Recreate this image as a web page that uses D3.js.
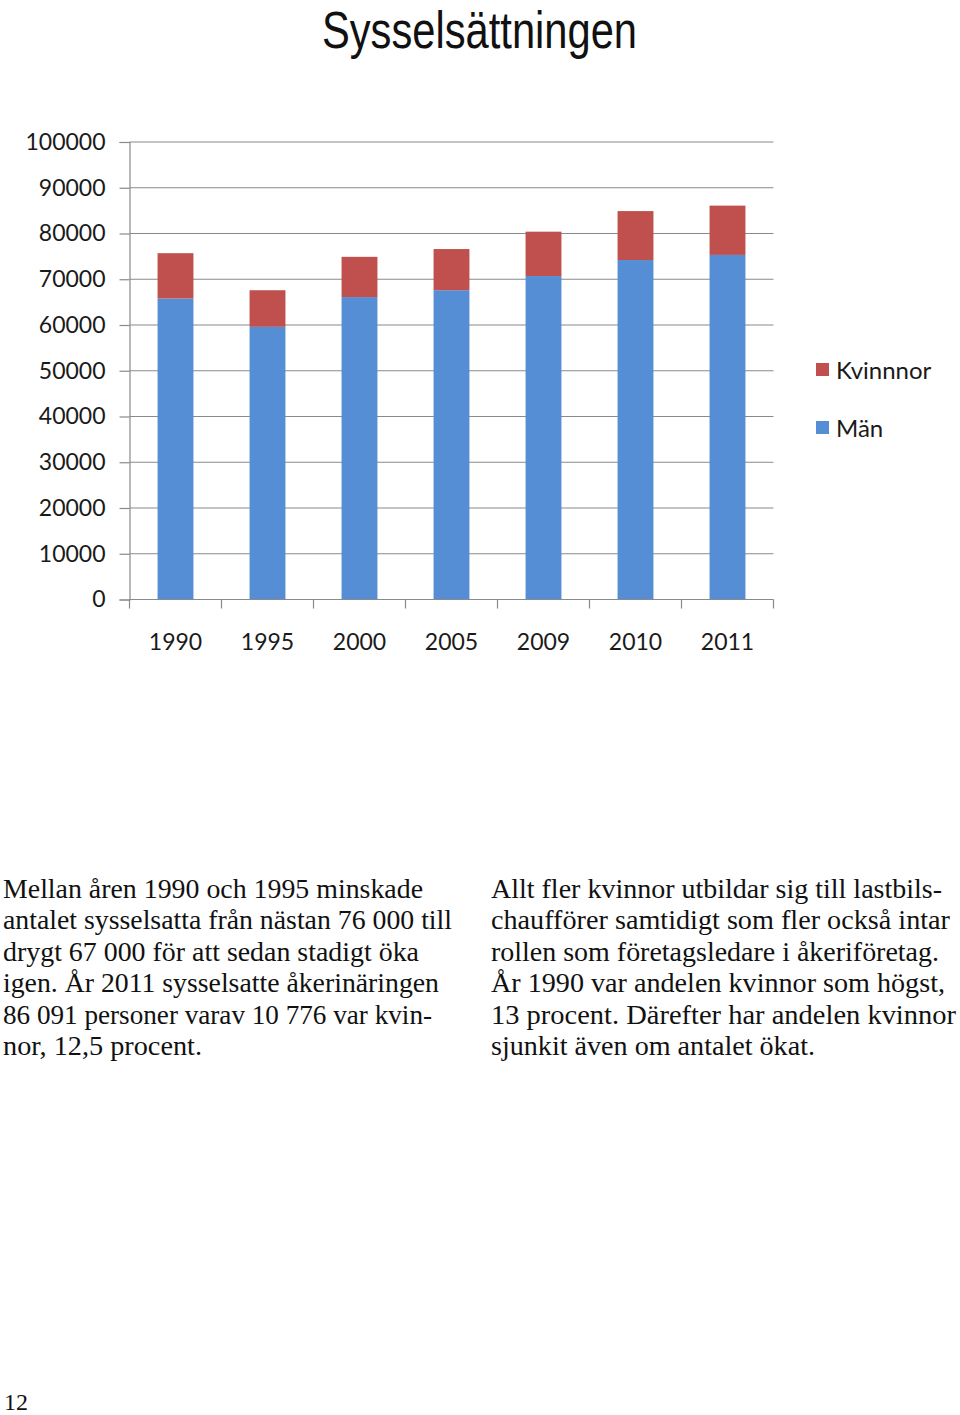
<!DOCTYPE html>
<html>
<head>
<meta charset="utf-8">
<script src="https://cdn.jsdelivr.net/npm/d3@7"></script>
<style>
  body { margin: 0; background: #fff; }
</style>
</head>
<body>
<div id="canvas"></div>
<script>
"use strict"

/* Data */
let years = ["1990", "1995", "2000", "2005", "2009", "2010", "2011"];
let man = [65800, 59600, 66100, 67600, 70700, 74200, 75315];
let kvinnor = [9900, 8000, 8800, 9000, 9700, 10700, 10776];
let yTicks = [0, 10000, 20000, 30000, 40000, 50000, 60000, 70000, 80000, 90000, 100000];
let seriesNames = ["Män", "Kvinnnor"];

/* Page text */
let title = "Sysselsättningen";
let leftLines = [
    "Mellan åren 1990 och 1995 minskade",
    "antalet sysselsatta från nästan 76 000 till",
    "drygt 67 000 för att sedan stadigt öka",
    "igen. År 2011 sysselsatte åkerinäringen",
    "86 091 personer varav 10 776 var kvin-",
    "nor, 12,5 procent."
];
let leftWidths = [420, 449, 416, 436, 429, 199];
let rightLines = [
    "Allt fler kvinnor utbildar sig till lastbils-",
    "chaufförer samtidigt som fler också intar",
    "rollen som företagsledare i åkeriföretag.",
    "År 1990 var andelen kvinnor som högst,",
    "13 procent. Därefter har andelen kvinnor",
    "sjunkit även om antalet ökat."
];
let rightWidths = [451, 459, 448, 454, 465, 324];

/* Drawing config */
let svgWidth = 960;
let svgHeight = 1415;
let plotLeft = 129.5;
let plotRight = 773.5;
let plotTop = 142;
let plotBottom = 599.5;
let blue = "#558ed5";
let red = "#c0504d";
let gridColor = "#8a8a8a";
let chartFont = "Lato, 'Open Sans', sans-serif";
let serifFont = "'Liberation Serif', 'DejaVu Serif', serif";

let svg = d3.select("#canvas")
    .append("svg")
    .attr("width", svgWidth)
    .attr("height", svgHeight);

svg.append("rect")
    .attr("width", svgWidth)
    .attr("height", svgHeight)
    .attr("fill", "#fff");

/* title */
svg.append("text")
    .attr("x", 322)
    .attr("y", 48)
    .attr("font-family", "'Liberation Sans', Arial, sans-serif")
    .attr("font-size", 52)
    .attr("fill", "#111")
    .attr("textLength", 315)
    .attr("lengthAdjust", "spacingAndGlyphs")
    .text(title);

/* scales */
let x = d3.scaleBand()
    .domain(years)
    .range([plotLeft, plotRight])
    .paddingInner(0.61)
    .paddingOuter(0.305);

let y = d3.scaleLinear()
    .domain([0, 100000])
    .range([plotBottom, plotTop]);

/* gridlines */
svg.append("g")
    .selectAll("line")
    .data(yTicks.slice(1))
    .join("line")
    .attr("x1", plotLeft)
    .attr("x2", plotRight)
    .attr("y1", d => y(d))
    .attr("y2", d => y(d))
    .attr("stroke", gridColor)
    .attr("stroke-width", 1.2);

/* stacked bars */
let table = years.map((yr, i) => ({ year: yr, man: man[i], kvinnor: kvinnor[i] }));
let stacked = d3.stack().keys(["man", "kvinnor"])(table);
let colors = { man: blue, kvinnor: red };

svg.append("g")
    .selectAll("g")
    .data(stacked)
    .join("g")
    .attr("fill", s => colors[s.key])
    .selectAll("rect")
    .data(s => s)
    .join("rect")
    .attr("x", d => x(d.data.year))
    .attr("width", x.bandwidth())
    .attr("y", d => y(d[1]))
    .attr("height", d => y(d[0]) - y(d[1]));

/* y axis */
let yAxis = svg.append("g")
    .attr("transform", `translate(${plotLeft},0)`)
    .call(d3.axisLeft(y)
        .tickValues(yTicks)
        .tickSize(10)
        .tickPadding(14)
        .tickFormat(d3.format("d")));

yAxis.select(".domain").attr("stroke", gridColor).attr("stroke-width", 1.2);
yAxis.selectAll(".tick line").attr("stroke", gridColor).attr("stroke-width", 1.2);
yAxis.selectAll(".tick text")
    .attr("font-family", chartFont)
    .attr("font-size", 23)
    .attr("fill", "#1a1a1a");

/* x axis: baseline, boundary ticks, labels */
svg.append("line")
    .attr("x1", plotLeft)
    .attr("x2", plotRight)
    .attr("y1", plotBottom)
    .attr("y2", plotBottom)
    .attr("stroke", gridColor)
    .attr("stroke-width", 1.2);

let boundaries = d3.range(years.length + 1).map(i => plotLeft + i * x.step());
svg.append("g")
    .selectAll("line")
    .data(boundaries)
    .join("line")
    .attr("x1", d => d)
    .attr("x2", d => d)
    .attr("y1", plotBottom)
    .attr("y2", plotBottom + 9)
    .attr("stroke", gridColor)
    .attr("stroke-width", 1.2);

svg.append("g")
    .selectAll("text")
    .data(years)
    .join("text")
    .attr("x", d => x(d) + x.bandwidth() / 2)
    .attr("y", 650)
    .attr("text-anchor", "middle")
    .attr("font-family", chartFont)
    .attr("font-size", 23)
    .attr("fill", "#1a1a1a")
    .text(d => d);

/* legend */
let legendColors = [blue, red];
let legendY = [428, 370];
let legend = svg.append("g")
    .selectAll("g")
    .data(seriesNames)
    .join("g")
    .attr("transform", (d, i) => `translate(816,${legendY[i]})`);

legend.append("rect")
    .attr("x", 0)
    .attr("y", -7)
    .attr("width", 13)
    .attr("height", 13)
    .attr("fill", (d, i) => legendColors[i]);

legend.append("text")
    .attr("x", 20)
    .attr("y", 0)
    .attr("dy", "0.36em")
    .attr("font-family", chartFont)
    .attr("font-size", 24)
    .attr("fill", "#1a1a1a")
    .text(d => d);

/* body text */
function writeColumn(lines, widths, left) {
    svg.append("g")
        .selectAll("text")
        .data(lines)
        .join("text")
        .attr("x", left)
        .attr("y", (d, i) => 898 + i * 31.4)
        .attr("font-family", serifFont)
        .attr("font-size", 27)
        .attr("fill", "#111")
        .attr("textLength", (d, i) => widths[i])
        .attr("lengthAdjust", "spacingAndGlyphs")
        .text(d => d);
}
writeColumn(leftLines, leftWidths, 3);
writeColumn(rightLines, rightWidths, 491);

/* page number */
svg.append("text")
    .attr("x", 4)
    .attr("y", 1410)
    .attr("font-family", serifFont)
    .attr("font-size", 24)
    .attr("fill", "#111")
    .text("12");
</script>
</body>
</html>
